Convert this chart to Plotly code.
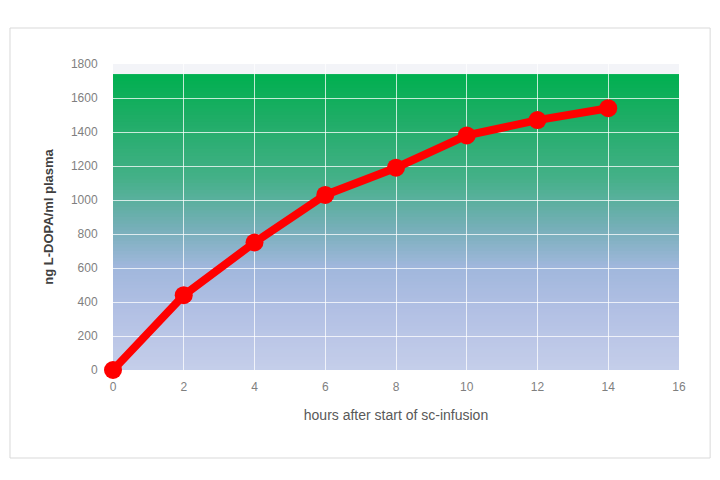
import plotly.graph_objects as go

hours = [0, 2, 4, 6, 8, 10, 12, 14]
ldopa = [0, 440, 750, 1030, 1190, 1380, 1470, 1540]
x_ticks = [0, 2, 4, 6, 8, 10, 12, 14, 16]
y_ticks = [0, 200, 400, 600, 800, 1000, 1200, 1400, 1600, 1800]
bg_top = 1740

# gradient stops (fraction of bg_top, rgb)
stops = [(0.0, (197, 206, 234)), (0.2, (178, 192, 228)), (0.35, (160, 183, 220)),
         (0.48, (118, 175, 184)), (0.65, (68, 176, 136)), (0.85, (30, 173, 102)),
         (1.0, (0, 176, 80))]


def color_at(f):
    for (f0, c0), (f1, c1) in zip(stops[:-1], stops[1:]):
        if f0 <= f <= f1:
            t = (f - f0) / (f1 - f0)
            return "rgb(%d,%d,%d)" % tuple(round(a + (b - a) * t) for a, b in zip(c0, c1))
    return "rgb(%d,%d,%d)" % stops[-1][1]


n_bands = 87
band_h = bg_top / n_bands
shapes = []
for i in range(n_bands):
    y0 = band_h * i
    y1 = min(bg_top, y0 + 2 * band_h)
    shapes.append(dict(type="rect", xref="x", yref="y", x0=0, x1=16, y0=y0, y1=y1,
                       fillcolor=color_at((i + 0.5) / n_bands), line=dict(width=0),
                       layer="below"))

shapes.append(dict(type="rect", xref="paper", yref="paper",
                   x0=-0.182, x1=1.055, y0=-0.2876, y1=1.1176,
                   line=dict(color="#d9d9d9", width=1)))

fig = go.Figure()
fig.add_trace(go.Scatter(
    x=hours, y=ldopa, mode="lines+markers",
    line=dict(color="#ff0000", width=8),
    marker=dict(color="#ff0000", size=18),
    cliponaxis=False, showlegend=False))

fig.update_layout(
    width=712, height=472,
    margin=dict(l=105, r=41, t=56, b=110),
    paper_bgcolor="white", plot_bgcolor="#f3f4f8",
    font=dict(family="Liberation Sans, Arial", color="#595959", size=12),
    shapes=shapes,
)
fig.update_xaxes(range=[0, 16], tickvals=x_ticks, showgrid=True,
                 gridcolor="rgba(255,255,255,0.75)", gridwidth=1,
                 zeroline=False, showline=False, ticks="outside", ticklen=6,
                 tickcolor="rgba(0,0,0,0)",
                 tickfont=dict(size=12, color="#7f7f7f"),
                 title=dict(text="hours after start of sc-infusion",
                            font=dict(size=14, color="#595959"), standoff=16))
fig.update_yaxes(range=[0, 1800], tickvals=y_ticks, showgrid=True,
                 gridcolor="rgba(255,255,255,0.75)", gridwidth=1,
                 zeroline=False, showline=False, ticks="outside", ticklen=12,
                 tickcolor="rgba(0,0,0,0)",
                 tickfont=dict(size=12, color="#7f7f7f"),
                 title=dict(text="<b>ng L-DOPA/ml plasma</b>",
                            font=dict(size=13, color="#404040"), standoff=14))

fig.write_html("out.html")
